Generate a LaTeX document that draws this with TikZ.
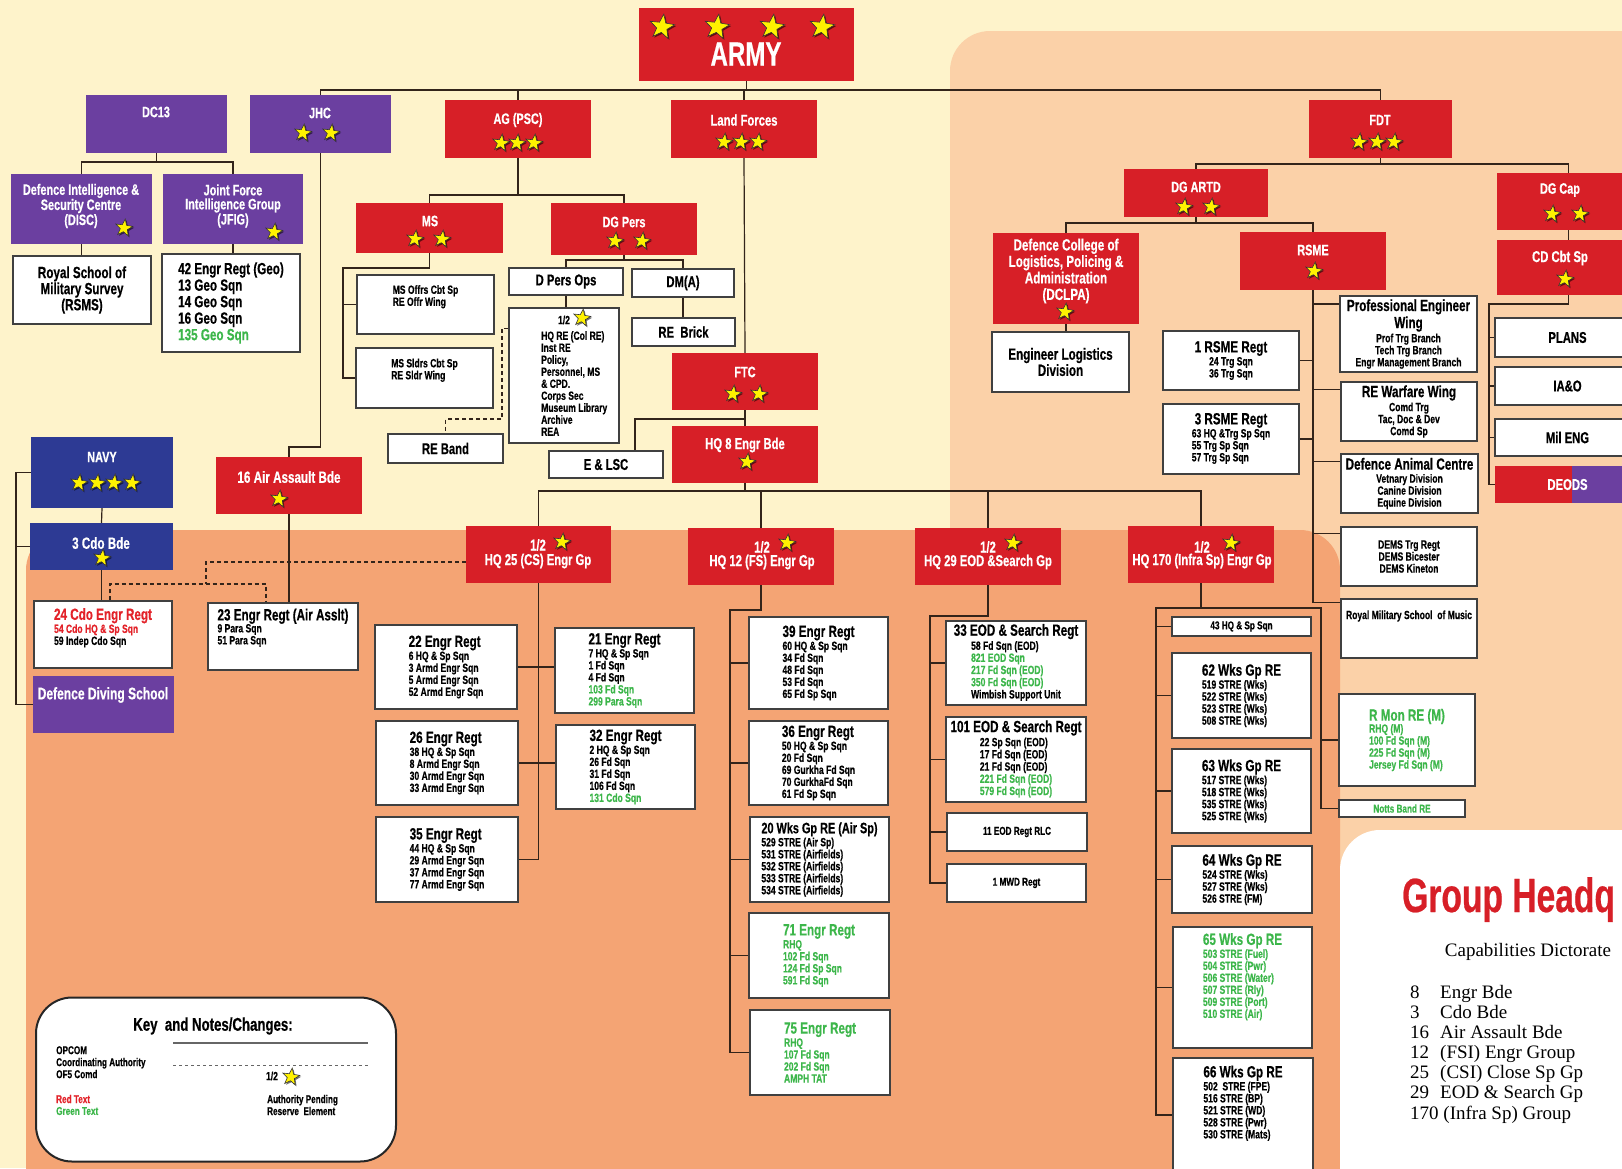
\documentclass[tikz,border=0pt]{standalone}
\usepackage{fontspec}
\newfontfamily\cond[FakeStretch=0.72,FakeBold=0.5]{Liberation Sans Bold}
\newfontfamily\condh[FakeStretch=0.7,FakeBold=0.5]{Liberation Sans Bold}
\newfontfamily\serf{Liberation Serif}
\usetikzlibrary{shapes.geometric,shadows}
\definecolor{bgY}{HTML}{FEF3CB}
\definecolor{bgP}{HTML}{FBD1A8}
\definecolor{bgO}{HTML}{F4A474}
\definecolor{redc}{HTML}{D71F27}
\definecolor{purc}{HTML}{6B3FA0}
\definecolor{navc}{HTML}{2D3A94}
\definecolor{grn}{HTML}{3CB64A}
\definecolor{rtx}{HTML}{E32229}
\definecolor{lnc}{HTML}{33241A}
\definecolor{stary}{HTML}{FFF200}
\newcommand\cfont{\cond}
\newcommand\fsz[2]{\fontsize{\fpeval{#1*1.08}}{#2}\selectfont}
\newcommand\ttlx[1]{{\fsz{15}{16}#1}}
\newcommand\gtx[1]{\textcolor{grn}{#1}}
\newcommand\bxx[7]{\node[#1,minimum width=#5pt-#3pt,minimum height=#6pt-#4pt] (#2) at ({(#3+#5)/2},{(#4+#6)/2}) {#7};}
\pgfdeclarelayer{bgl}\pgfdeclarelayer{lnl}\pgfsetlayers{bgl,lnl,main}
\begin{document}
\begin{tikzpicture}[x=1pt,y=-1pt,
 ln/.style={draw=lnc,line width=1.2pt},
 dsh/.style={draw=lnc,line width=1.1pt,dash pattern=on 4pt off 3pt},
 wb/.style={draw=black!75,line width=1.3pt,fill=white,inner sep=1pt,font=\cfont\fsz{11}{12},align=left},
 wbc/.style={wb,align=center},
 cb/.style={inner sep=0pt},
 rb/.style={cb,fill=redc}, pb/.style={cb,fill=purc}, nb/.style={cb,fill=navc},
 tx/.style={inner sep=0pt,text=white,font=\cfont\fsz{14}{15},align=center},
 st/.style={star,star points=5,star point ratio=2.4,fill=stary,draw=black!80,line width=0.6pt,minimum size=18pt,inner sep=0pt,rotate=-8,drop shadow={shadow xshift=1.3pt,shadow yshift=-1.3pt,opacity=0.55,fill=black}},
 bst/.style={st,minimum size=26pt}]
\useasboundingbox (0,0) rectangle (1622,1168);
\begin{pgfonlayer}{bgl}
\fill[bgY] (0,0) rectangle (1622,1168);
\fill[bgP,rounded corners=40pt] (950,31) rectangle (1720,1300);
\fill[bgO,rounded corners=40pt] (26,530) rectangle (1340,1300);
\fill[bgO] (1300,830) rectangle (1340,1300);
\fill[white,rounded corners=40pt] (1340,830) rectangle (1720,1300);
\end{pgfonlayer}

% ---------- top level
\bxx{rb}{army}{639}{8}{854}{81}{}
\node[tx,font=\cfont\fsz{31}{31}] (army-t) at (746,54) {ARMY};
\foreach \x [count=\i] in {662,717,772,822} \node[bst] (sa\i) at (\x,27) {};

\bxx{pb}{dc13}{86}{95}{227}{153}{}
\node[tx] (dc13-t) at (156,112) {DC13};
\bxx{pb}{jhc}{250}{95}{391}{153}{}
\node[tx] (jhc-t) at (320,113) {JHC};
\foreach \x [count=\i] in {303,331} \node[st] (sj\i) at (\x,133) {};

\bxx{rb}{ag}{445}{100}{591}{158}{}
\node[tx] (ag-t) at (518,120) {AG (PSC)};
\foreach \x [count=\i] in {501,517,534} \node[st] (sg\i) at (\x,143) {};
\bxx{rb}{lf}{671}{100}{817}{158}{}
\node[tx,font=\cfont\fsz{14.5}{15}] (lf-t) at (744,120) {Land Forces};
\foreach \x [count=\i] in {724,741,758} \node[st] (sl\i) at (\x,142) {};
\bxx{rb}{fdt}{1309}{100}{1452}{158}{}
\node[tx] (fdt-t) at (1380,120) {FDT};
\foreach \x [count=\i] in {1359,1377,1394} \node[st] (sf\i) at (\x,142) {};

% ---------- left column
\bxx{pb}{disc}{11}{174}{152}{244}{}
\node[tx,font=\cfont\fsz{14}{14}] (disc-t) at (81,206) {Defence Intelligence \&\\Security Centre\\(DISC)};
\node[st] (sd1) at (124,228) {};
\bxx{pb}{jfig}{163}{174}{303}{244}{}
\node[tx,font=\cfont\fsz{14}{14}] (jfig-t) at (233,206) {Joint Force\\Intelligence Group\\(JFIG)};
\node[st] (sjf1) at (274,232) {};
\bxx{wbc,font=\cfont\fsz{15}{13}}{rsms}{13}{256}{151}{324}{Royal School of\\Military Survey\\(RSMS)}
\bxx{wb,font=\cfont\fsz{15}{16.5}}{geo42}{162}{254}{300}{352}{42 Engr Regt (Geo)\\13 Geo Sqn\\14 Geo Sqn\\16 Geo Sqn\\\gtx{135 Geo Sqn}}

\bxx{nb}{navy}{31}{437}{173}{508}{}
\node[tx] (navy-t) at (102,457) {NAVY};
\foreach \x [count=\i] in {79,97,114,132} \node[st] (sn\i) at (\x,483) {};
\bxx{nb}{cdo3}{30}{523}{173}{570}{}
\node[tx,font=\cfont\fsz{15}{15}] (cdo3-t) at (101,543) {3 Cdo Bde};
\node[st] (sc1) at (102,558) {};
\bxx{rb}{aa16}{216}{457}{362}{514}{}
\node[tx,font=\cfont\fsz{15}{15}] (aa16-t) at (289,477) {16 Air Assault Bde};
\node[st] (saa1) at (279,499) {};
\bxx{pb}{dds}{33}{676}{174}{733}{}
\node[tx,font=\cfont\fsz{15.5}{15}] (dds-t) at (103,695) {Defence Diving School};
\bxx{wb}{cdo24}{34}{601}{172}{668}{\textcolor{rtx}{\ttlx{24 Cdo Engr Regt}}\\\textcolor{rtx}{54 Cdo HQ \& Sp Sqn}\\59 Indep Cdo Sqn\\[4pt]}
\bxx{wb}{e23}{208}{603}{358}{670}{\ttlx{23 Engr Regt (Air Asslt)}\\9 Para Sqn\\51 Para Sqn\\[8pt]}

% ---------- AG branch
\bxx{rb}{ms}{356}{203}{503}{253}{}
\node[tx] (ms-t) at (430,221) {MS};
\foreach \x [count=\i] in {415,442} \node[st] (sm\i) at (\x,239) {};
\bxx{rb}{dgpers}{551}{203}{697}{255}{}
\node[tx] (dgpers-t) at (624,222) {DG Pers};
\foreach \x [count=\i] in {615,642} \node[st] (sp\i) at (\x,241) {};
\bxx{wb}{msoffr}{357}{275}{494}{334}{MS Offrs Cbt Sp\\RE Offr Wing\\[6pt]}
\bxx{wb}{mssldr}{356}{348}{493}{408}{MS Sldrs Cbt Sp\\RE Sldr Wing\\[6pt]}
\bxx{wbc,font=\cfont\fsz{14.5}{15}}{dpersops}{509}{268}{623}{295}{D Pers Ops}
\bxx{wbc,font=\cfont\fsz{14.5}{15}}{dma}{632}{269}{734}{297}{DM(A)}
\bxx{wb}{hqre}{509}{308}{619}{443}{}
\node[inner sep=0pt,font=\cfont\fsz{11}{12}] (hqre-h) at (564,320) {1/2};
\node[st] (shr1) at (582,318) {};
\node[anchor=north west,inner sep=0pt,align=left,font=\cfont\fsz{11}{12}] (hqre-l) at (541,331) {HQ RE (Col RE)\\Inst RE\\Policy,\\Personnel, MS\\\& CPD.\\Corps Sec\\Museum Library\\Archive\\REA};
\bxx{wbc,font=\cfont\fsz{14.5}{15}}{rebrick}{632}{318}{735}{346}{RE\ \ Brick}
\bxx{wbc,font=\cfont\fsz{14.5}{15}}{reband}{388}{434}{503}{463}{RE Band}
\bxx{wbc,font=\cfont\fsz{14.5}{15}}{elsc}{549}{451}{663}{478}{E \& LSC}

% ---------- Land forces branch
\bxx{rb}{ftc}{672}{353}{818}{410}{}
\node[tx] (ftc-t) at (745,372) {FTC};
\foreach \x [count=\i] in {733,759} \node[st] (sft\i) at (\x,394) {};
\bxx{rb}{hq8}{672}{426}{818}{483}{}
\node[tx,font=\cfont\fsz{14.5}{15}] (hq8-t) at (745,445) {HQ 8 Engr Bde};
\node[st] (sh8) at (747,462) {};

\bxx{rb}{hq25}{466}{526}{611}{583}{}
\node[tx,font=\cfont\fsz{14.5}{15}] (hq25-h) at (538,545) {1/2};
\node[tx,font=\cfont\fsz{14.5}{15}] (hq25-t) at (538,561) {HQ 25 (CS) Engr Gp};
\node[st] (s25) at (562,542) {};
\bxx{rb}{hq12}{688}{528}{834}{585}{}
\node[tx,font=\cfont\fsz{14.5}{15}] (hq12-h) at (762,547) {1/2};
\node[tx,font=\cfont\fsz{14.5}{15}] (hq12-t) at (762,562) {HQ 12 (FS) Engr Gp};
\node[st] (s12) at (787,543) {};
\bxx{rb}{hq29}{915}{528}{1061}{585}{}
\node[tx,font=\cfont\fsz{14.5}{15}] (hq29-h) at (988,547) {1/2};
\node[tx,font=\cfont\fsz{14.5}{15}] (hq29-t) at (988,562) {HQ 29 EOD \&Search Gp};
\node[st] (s29) at (1013,543) {};
\bxx{rb}{hq170}{1128}{526}{1274}{583}{}
\node[tx,font=\cfont\fsz{14.5}{15}] (hq170-h) at (1202,547) {1/2};
\node[tx,font=\cfont\fsz{14.5}{15}] (hq170-t) at (1202,561) {HQ 170 (Infra Sp) Engr Gp};
\node[st] (s170) at (1231,543) {};

% HQ 25 group
\bxx{wb}{e22}{375}{625}{517}{709}{\ttlx{22 Engr Regt}\\[1pt]6 HQ \& Sp Sqn\\3 Armd Engr Sqn\\5 Armd Engr Sqn\\52 Armd Engr Sqn}
\bxx{wb}{e21}{555}{628}{694}{713}{\ttlx{21 Engr Regt}\\[1pt]7 HQ \& Sp Sqn\\1 Fd Sqn\\4 Fd Sqn\\\gtx{103 Fd Sqn}\\\gtx{299 Para Sqn}}
\bxx{wb}{e26}{376}{721}{518}{805}{\ttlx{26 Engr Regt}\\[1pt]38 HQ \& Sp Sqn\\8 Armd Engr Sqn\\30 Armd Engr Sqn\\33 Armd Engr Sqn}
\bxx{wb}{e32}{556}{725}{695}{809}{\ttlx{32 Engr Regt}\\[1pt]2 HQ \& Sp Sqn\\26 Fd Sqn\\31 Fd Sqn\\106 Fd Sqn\\\gtx{131 Cdo Sqn}}
\bxx{wb}{e35}{376}{817}{518}{902}{\ttlx{35 Engr Regt}\\[1pt]44 HQ \& Sp Sqn\\29 Armd Engr Sqn\\37 Armd Engr Sqn\\77 Armd Engr Sqn}

% HQ 12 group
\bxx{wb}{e39}{749}{617}{888}{709}{\ttlx{39 Engr Regt}\\[1pt]60 HQ \& Sp Sqn\\34 Fd Sqn\\48 Fd Sqn\\53 Fd Sqn\\65 Fd Sp Sqn}
\bxx{wb}{e36}{749}{721}{888}{805}{\ttlx{36 Engr Regt}\\[1pt]50 HQ \& Sp Sqn\\20 Fd Sqn\\69 Gurkha Fd Sqn\\70 GurkhaFd Sqn\\61 Fd Sp Sqn}
\bxx{wb}{w20}{750}{817}{889}{902}{{\fsz{14}{15}20 Wks Gp RE (Air Sp)}\\[1pt]529 STRE (Air Sp)\\531 STRE (Airfields)\\532 STRE (Airfields)\\533 STRE (Airfields)\\534 STRE (Airfields)}
\bxx{wb,text=grn}{e71}{749}{913}{889}{998}{\ttlx{71 Engr Regt}\\[1pt]RHQ\\102 Fd Sqn\\124 Fd Sp Sqn\\591 Fd Sqn}
\bxx{wb,text=grn}{e75}{750}{1010}{890}{1095}{\ttlx{75 Engr Regt}\\[1pt]RHQ\\107 Fd Sqn\\202 Fd Sqn\\AMPH TAT}

% HQ 29 group
\bxx{wbc}{eod33}{946}{621}{1086}{705}{\ttlx{33 EOD \& Search Regt}\\[1pt]\begin{tabular}[t]{@{}l@{}}58 Fd Sqn (EOD)\\\gtx{821 EOD Sqn}\\\gtx{217 Fd Sqn (EOD)}\\\gtx{350 Fd Sqn (EOD)}\\Wimbish Support Unit\end{tabular}}
\bxx{wbc}{eod101}{946}{717}{1086}{802}{\ttlx{101 EOD \& Search Regt}\\[1pt]\begin{tabular}[t]{@{}l@{}}22 Sp Sqn (EOD)\\17 Fd Sqn (EOD)\\21 Fd Sqn (EOD)\\\gtx{221 Fd Sqn (EOD)}\\\gtx{579 Fd Sqn (EOD)}\end{tabular}}
\bxx{wbc,font=\cfont\fsz{10.5}{12}}{eod11}{947}{813}{1087}{851}{11 EOD Regt RLC}
\bxx{wbc,font=\cfont\fsz{10.5}{12}}{mwd}{947}{864}{1086}{902}{1 MWD Regt}

% HQ 170 group
\bxx{wbc,font=\cfont\fsz{10.5}{12}}{sq43}{1172}{617}{1311}{636}{43 HQ \& Sp Sqn}
\bxx{wb}{w62}{1172}{653}{1311}{738}{\ttlx{62 Wks Gp RE}\\[1pt]519 STRE (Wks)\\522 STRE (Wks)\\523 STRE (Wks)\\508 STRE (Wks)}
\bxx{wb}{w63}{1172}{749}{1311}{833}{\ttlx{63 Wks Gp RE}\\[1pt]517 STRE (Wks)\\518 STRE (Wks)\\535 STRE (Wks)\\525 STRE (Wks)}
\bxx{wb}{w64}{1172}{846}{1312}{913}{\ttlx{64 Wks Gp RE}\\[1pt]524 STRE (Wks)\\527 STRE (Wks)\\526 STRE (FM)}
\bxx{wb,text=grn}{w65}{1173}{927}{1312}{1048}{\ttlx{65 Wks Gp RE}\\[1pt]503 STRE (Fuel)\\504 STRE (Pwr)\\506 STRE (Water)\\507 STRE (Rly)\\509 STRE (Port)\\510 STRE (Air)\\[12pt]}
\bxx{wb}{w66}{1173}{1058}{1313}{1172}{\ttlx{66 Wks Gp RE}\\[1pt]502\ \ STRE (FPE)\\516 STRE (BP)\\521 STRE (WD)\\528 STRE (Pwr)\\530 STRE (Mats)\\[14pt]}

% ---------- FDT branch
\bxx{rb}{dgartd}{1124}{169}{1268}{217}{}
\node[tx] (dgartd-t) at (1196,187) {DG ARTD};
\foreach \x [count=\i] in {1184,1211} \node[st] (sda\i) at (\x,207) {};
\bxx{rb}{dgcap}{1497}{173}{1640}{230}{}
\node[tx] (dgcap-t) at (1560,190) {DG Cap};
\foreach \x [count=\i] in {1552,1580} \node[st] (sdc\i) at (\x,214) {};
\bxx{rb}{cdcbt}{1497}{240}{1640}{295}{}
\node[tx,font=\cfont\fsz{14.5}{15}] (cdcbt-t) at (1560,258) {CD Cbt Sp};
\node[st] (scd1) at (1565,279) {};
\bxx{rb}{dclpa}{993}{233}{1139}{324}{}
\node[tx,font=\cfont\fsz{15}{16.5}] (dclpa-t) at (1066,271) {Defence College of\\Logistics, Policing \&\\Administration\\(DCLPA)};
\node[st] (sdl1) at (1065,312) {};
\bxx{rb}{rsme}{1240}{232}{1386}{290}{}
\node[tx] (rsme-t) at (1313,250) {RSME};
\node[st] (srs1) at (1314,271) {};
\bxx{wbc,font=\cfont\fsz{15}{14}}{engld}{992}{332}{1129}{392}{Engineer Logistics\\Division}
\bxx{wbc}{rsme1}{1163}{331}{1299}{390}{\ttlx{1 RSME Regt}\\[1pt]24 Trg Sqn\\36 Trg Sqn}
\bxx{wbc}{rsme3}{1163}{404}{1299}{474}{\ttlx{3 RSME Regt}\\[1pt]\begin{tabular}[t]{@{}l@{}}63 HQ \&Trg Sp Sqn\\55 Trg Sp Sqn\\57 Trg Sp Sqn\end{tabular}}
\bxx{wbc}{pew}{1340}{296}{1477}{372}{{\fsz{15}{15}Professional Engineer}\\[1pt]{\fsz{15}{15}Wing}\\[1pt]Prof Trg Branch\\Tech Trg Branch\\Engr Management Branch}
\bxx{wbc}{rewar}{1341}{382}{1477}{441}{\ttlx{RE Warfare Wing}\\[1pt]Comd Trg\\Tac, Doc \& Dev\\Comd Sp}
\bxx{wbc}{dac}{1341}{454}{1478}{513}{\ttlx{Defence Animal Centre}\\[1pt]Vetnary Division\\Canine Division\\Equine Division}
\bxx{wbc}{dems}{1341}{527}{1477}{586}{DEMS Trg Regt\\DEMS Bicester\\DEMS Kineton}
\bxx{wb}{rmsm}{1341}{599}{1477}{658}{}
\node[inner sep=0pt,font=\cfont\fsz{11}{12}] (rmsm-t) at (1409,616) {Royal Military School\ \ of Music};
\bxx{wb,text=grn}{rmon}{1339}{694}{1475}{786}{\ttlx{R Mon RE (M)}\\RHQ (M)\\100 Fd Sqn (M)\\225 Fd Sqn (M)\\Jersey Fd Sqn (M)}
\bxx{wbc,text=grn,font=\cfont\fsz{10.5}{12}}{notts}{1339}{800}{1465}{817}{Notts Band RE}
\bxx{wbc,font=\cfont\fsz{14.5}{15}}{plans}{1495}{318}{1640}{357}{PLANS}
\bxx{wbc,font=\cfont\fsz{14.5}{15}}{iao}{1495}{367}{1640}{405}{IA\&O}
\bxx{wbc,font=\cfont\fsz{14.5}{15}}{mileng}{1495}{419}{1640}{456}{Mil ENG}
\bxx{rb,text=white,font=\cfont\fsz{14.5}{15},path picture={\fill[purc] ([xshift=77pt]path picture bounding box.south west) rectangle (path picture bounding box.north east);}}{deods}{1495}{466}{1640}{503}{DEODS}

% ---------- key
\node[draw=black!85,line width=2pt,rounded corners=36pt,fill=white,minimum width=360pt,minimum height=164pt] (key) at (216,1079.5) {};
\node[inner sep=0pt,font=\cfont\fsz{17}{17}] (key-t) at (213,1026) {Key\ \ and Notes/Changes:};
\node[anchor=north west,inner sep=0pt,align=left,font=\cfont\fsz{10.5}{12}] (key-l) at (56,1046) {OPCOM\\Coordinating Authority\\OF5 Comd};
\node[anchor=west,inner sep=0pt,text=rtx,font=\cfont\fsz{10.5}{12}] (key-r) at (56,1099) {Red Text};
\node[anchor=west,inner sep=0pt,text=grn,font=\cfont\fsz{10.5}{12}] (key-g) at (56,1111) {Green Text};
\node[inner sep=0pt,font=\cfont\fsz{11}{12}] (key-h) at (272,1076) {1/2};
\node[st] (sk1) at (291,1077) {};
\node[anchor=west,inner sep=0pt,align=left,font=\cfont\fsz{10.5}{12}] (key-a) at (267,1105) {Authority Pending\\Reserve\ \ Element};
\coordinate (k1) at (173,1043); \coordinate (k2) at (368,1043);
\coordinate (k3) at (173,1065); \coordinate (k4) at (368,1065);
\draw[gray!80!black,line width=1.8pt] (k1) -- (k2);
\draw[gray!80!black,line width=1pt,dash pattern=on 3pt off 3pt] (k3) -- (k4);

% ---------- right legend
\node[anchor=base west,inner sep=0pt,text=redc,font=\condh\fontsize{48}{48}\selectfont] (gh) at (1402,912) {Group Headq};
\node[anchor=base,inner sep=0pt,font=\serf\fontsize{19}{20}\selectfont] (capd) at (1528,956) {Capabilities Dictorate};
\foreach \n/\t/\y [count=\i] in {8/Engr Bde/998,3/Cdo Bde/1018,16/Air Assault Bde/1038,12/(FSI) Engr Group/1058,25/(CSI) Close Sp Gp/1078,29/EOD \& Search Gp/1098}
  \node[anchor=base west,inner sep=0pt,font=\serf\fontsize{19}{20}\selectfont] (li\i) at (1410,\y) {\makebox[30pt][l]{\n}\t};
\node[anchor=base west,inner sep=0pt,font=\serf\fontsize{19}{20}\selectfont] (li7) at (1410,1119) {170 (Infra Sp) Group};

% ---------- connectors
\begin{pgfonlayer}{lnl}
\coordinate (bT) at (0,90);
\draw[ln] (jhc.north) -- (jhc.north|-bT) -- (fdt.north|-bT) -- (fdt.north);
\draw[ln] (army.south) -- (army.south|-bT);
\draw[ln] (ag.north) -- (ag.north|-bT);
\draw[ln] (lf.north) -- (lf.north|-bT);
\coordinate (b1) at (0,162);
\draw[ln] (dc13.south) -- (dc13.south|-b1);
\draw[ln] (disc.north) -- (disc.north|-b1) -- (jfig.north|-b1) -- (jfig.north);
\draw[ln] (disc.south) -- (disc.south|-rsms.north);
\draw[ln] (jfig.south) -- (jfig.south|-geo42.north);
\coordinate (b2) at (0,447);
\draw[ln] (jhc.south) -- (jhc.south|-b2) -| (aa16.north);
\coordinate (nbus) at (16,0);
\draw[ln] (navy.west) -- (navy.west-|nbus) |- (dds.west);
\draw[ln] (cdo3.west) -- (cdo3.west-|nbus);
\draw[ln] (navy.south) -- (cdo3.north);
\draw[ln] (cdo3.south) -- (cdo3.south|-cdo24.north);
\draw[ln] (aa16.south) -- (aa16.south|-e23.north);
\coordinate (dA) at (206,562); \coordinate (dB) at (206,584);
\draw[dsh] (hq25.west|-dA) -- (dA) -- (dB);
\draw[dsh] ([xshift=7pt]cdo24.north) |- (dB) -| ([xshift=-17pt]e23.north);
\coordinate (b3) at (0,195);
\draw[ln] (ag.south) -- (ag.south|-b3);
\draw[ln] (ms.north) -- (ms.north|-b3) -- (dgpers.north|-b3) -- (dgpers.north);
\coordinate (msb) at (343,268);
\draw[ln] (ms.south) |- (msb) |- (mssldr.west);
\draw[ln] (msoffr.west) -- (msoffr.west-|msb);
\coordinate (b4) at (0,260);
\draw[ln] (dgpers.south) -- (dgpers.south|-b4);
\draw[ln] (dpersops.north) -- (dpersops.north|-b4) -- (dma.north|-b4) -- (dma.north);
\draw[ln] (dpersops.south) -- (dpersops.south|-hqre.north);
\draw[ln] (dma.south) -- (dma.south|-rebrick.north);
\coordinate (dC) at (502,419);
\draw[dsh] ([yshift=-21pt]hqre.north west) -| (dC) -| (reband.north);
\draw[ln] (lf.south) -- (ftc.north);
\draw[ln] (ftc.south) -- (hq8.north);
\coordinate (b5) at (0,419);
\draw[ln] (ftc.south|-b5) -| ([xshift=29pt]elsc.north);
\coordinate (b6) at (0,491);
\draw[ln] (hq8.south) -- (hq8.south|-b6);
\draw[ln] (hq25.north) -- (hq25.north|-b6) -- (hq170.north|-b6) -- (hq170.north);
\draw[ln] (hq12.north) -- (hq12.north|-b6);
\draw[ln] (hq29.north) -- (hq29.north|-b6);
\draw[ln] (hq25.south) -- (hq25.south|-e35.east) -- (e35.east);
\draw[ln] (e22.east) -- (e22.east-|e21.west);
\draw[ln] (e26.east) -- (e26.east-|e32.west);
\coordinate (h12) at (730,610);
\draw[ln] (hq12.south) |- (h12) |- (e75.west);
\foreach \n in {e39,e36,w20,e71} \draw[ln] (\n.west) -- (\n.west-|h12);
\coordinate (h29) at (930,616);
\draw[ln] (hq29.south) |- (h29) |- (mwd.west);
\foreach \n in {eod33,eod101,eod11} \draw[ln] (\n.west) -- (\n.west-|h29);
\coordinate (h170) at (1156,608); \coordinate (h170b) at (1321,608);
\draw[ln] (hq170.south) -- (hq170.south|-h170);
\draw[ln] (w66.west) -| (h170) -- (h170b) |- (notts.west);
\foreach \n in {sq43,w62,w63,w64,w65} \draw[ln] (\n.west) -- (\n.west-|h170);
\draw[ln] (rmon.west) -- (rmon.west-|h170b);
\coordinate (b7) at (0,164);
\draw[ln] (fdt.south) -- (fdt.south|-b7);
\draw[ln] (dgartd.north) -- (dgartd.north|-b7) -- (dgcap.north|-b7) -- (dgcap.north);
\draw[ln] (dgcap.south) -- (dgcap.south|-cdcbt.north);
\coordinate (b8) at (0,223);
\draw[ln] (dgartd.south) -- (dgartd.south|-b8);
\draw[ln] (dclpa.north) -- (dclpa.north|-b8) -- (rsme.north|-b8) -- (rsme.north);
\draw[ln] (dclpa.south) -- (dclpa.south|-engld.north);
\path ([yshift=26pt]rmsm.west) coordinate (rm1) ([yshift=30pt]pew.west) coordinate (pw1)
      ([yshift=22pt]rewar.west) coordinate (rw1) ([yshift=22pt]dac.west) coordinate (da1)
      ([yshift=23pt]dems.west) coordinate (de1);
\draw[ln] (rsme.south) |- (rm1);
\foreach \c in {pw1,rw1,da1,de1} \draw[ln] (\c) -- (\c-|rsme.south);
\draw[ln] (rsme1.east) -- (rsme1.east-|rsme.south);
\draw[ln] (rsme3.east) -- (rsme3.east-|rsme.south);
\coordinate (cbb) at (1489,304);
\draw[ln] (cdcbt.south) |- (cbb) |- (deods.west);
\foreach \n in {plans,iao,mileng} \draw[ln] (\n.west) -- (\n.west-|cbb);
\end{pgfonlayer}
\end{tikzpicture}
\end{document}
